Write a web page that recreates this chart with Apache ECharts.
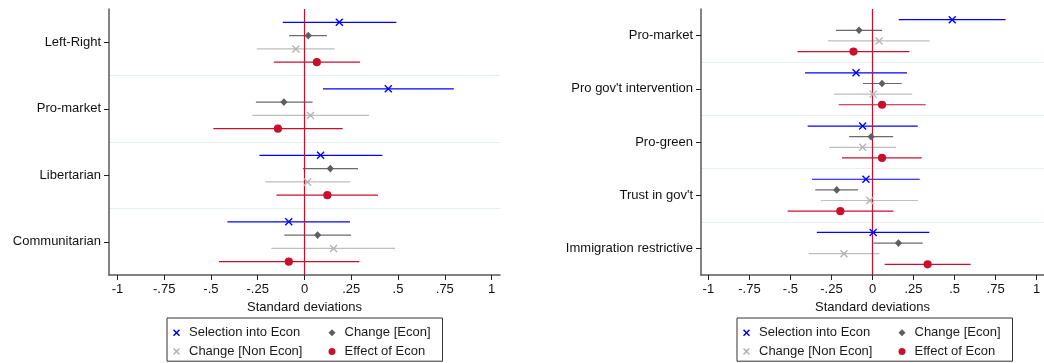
<!DOCTYPE html>
<html>
<head>
<meta charset="utf-8">
<script src="https://cdn.jsdelivr.net/npm/echarts@6/dist/echarts.min.js"></script>
<style>
  html, body { margin: 0; padding: 0; background: #ffffff; }
  #chart { width: 1044px; height: 363px; }
</style>
</head>
<body>
<div id="chart"></div>
<script>
// ---- Data -------------------------------------------------------------
const leftCategories  = ['Left-Right', 'Pro-market', 'Libertarian', 'Communitarian'];
const rightCategories = ['Pro-market', "Pro gov't intervention", 'Pro-green', "Trust in gov't", 'Immigration restrictive'];

const seriesNames = ['Selection into Econ', 'Change [Econ]', 'Change [Non Econ]', 'Effect of Econ'];

// Left panel: point estimates and 95% interval bounds (standard deviations)
const leftSelectionEst = [0.186, 0.448, 0.086, -0.084];
const leftSelectionLo  = [-0.116, 0.099, -0.241, -0.412];
const leftSelectionHi  = [0.491, 0.798, 0.416, 0.243];

const leftChangeEconEst = [0.020, -0.110, 0.138, 0.070];
const leftChangeEconLo  = [-0.082, -0.260, -0.009, -0.107];
const leftChangeEconHi  = [0.120, 0.043, 0.286, 0.249];

const leftChangeNonEst = [-0.046, 0.032, 0.016, 0.155];
const leftChangeNonLo  = [-0.255, -0.279, -0.209, -0.177];
const leftChangeNonHi  = [0.161, 0.345, 0.243, 0.484];

const leftEffectEst = [0.066, -0.142, 0.122, -0.084];
const leftEffectLo  = [-0.164, -0.487, -0.150, -0.457];
const leftEffectHi  = [0.297, 0.204, 0.393, 0.293];

// Right panel
const rightSelectionEst = [0.486, -0.100, -0.060, -0.040, 0.004];
const rightSelectionLo  = [0.160, -0.411, -0.395, -0.369, -0.339];
const rightSelectionHi  = [0.811, 0.210, 0.276, 0.288, 0.346];

const rightChangeEconEst = [-0.082, 0.058, -0.008, -0.218, 0.158];
const rightChangeEconLo  = [-0.222, -0.058, -0.142, -0.349, 0.006];
const rightChangeEconHi  = [0.058, 0.178, 0.126, -0.088, 0.306];

const rightChangeNonEst = [0.040, 0.004, -0.060, -0.016, -0.174];
const rightChangeNonLo  = [-0.272, -0.234, -0.264, -0.315, -0.389];
const rightChangeNonHi  = [0.348, 0.242, 0.144, 0.278, 0.042];

const rightEffectEst = [-0.116, 0.058, 0.058, -0.196, 0.336];
const rightEffectLo  = [-0.457, -0.206, -0.186, -0.517, 0.074];
const rightEffectHi  = [0.224, 0.324, 0.300, 0.128, 0.598];

// x-axis ticks
const tickValues = [-1, -0.75, -0.5, -0.25, 0, 0.25, 0.5, 0.75, 1];
const tickLabels = ['-1', '-.75', '-.5', '-.25', '0', '.25', '.5', '.75', '1'];

// ---- Styling ------------------------------------------------------------
const FONT = "'Liberation Sans', Arial, Helvetica, sans-serif";
const COLORS = ['#0000ff', '#5e5e5e', '#b4b4b4', '#c8102e'];
const LINE_COLORS = ['#0000ff', '#6a6a6a', '#bdbdbd', '#c8102e'];
const MARKERS = ['cross', 'diamond', 'cross', 'circle'];
const ZERO_COLOR = '#c8102e';

const crossPath = 'path://M0,1.5L1.5,0L5,3.5L8.5,0L10,1.5L6.5,5L10,8.5L8.5,10L5,6.5L1.5,10L0,8.5L3.5,5Z';
const diamondPath = 'path://M5,0L10,5L5,10L0,5Z';
const circlePath = 'path://M5,0A5,5,0,1,1,4.99,0Z';
const legendIcons = [crossPath, diamondPath, crossPath, circlePath];

// ---- Helpers ------------------------------------------------------------
function buildRows(est, lo, hi) {
  return est.map((v, i) => [v, i, lo[i], hi[i]]);
}

// vertical offset of a series' row within its category band (4 rows per band)
function rowY(api, row) {
  const band = api.size([0, 1])[1];
  return api.coord([0, api.value(1)])[1] + (row - 1.5) * band / 5;
}

function barRenderer(row) {
  return function (params, api) {
    const y = rowY(api, row);
    const x0 = api.coord([api.value(2), api.value(1)])[0];
    const x1 = api.coord([api.value(3), api.value(1)])[0];
    return {
      type: 'line',
      shape: { x1: x0, y1: y, x2: x1, y2: y },
      style: { stroke: LINE_COLORS[row], lineWidth: 1.2 }
    };
  };
}

function markerRenderer(row) {
  return function (params, api) {
    const y = rowY(api, row);
    const x = api.coord([api.value(0), api.value(1)])[0];
    const color = COLORS[row];
    const kind = MARKERS[row];
    if (kind === 'cross') {
      const h = 3.5;
      return {
        type: 'group',
        children: [
          { type: 'line', shape: { x1: x - h, y1: y - h, x2: x + h, y2: y + h }, style: { stroke: color, lineWidth: 1.4 } },
          { type: 'line', shape: { x1: x - h, y1: y + h, x2: x + h, y2: y - h }, style: { stroke: color, lineWidth: 1.4 } }
        ]
      };
    }
    if (kind === 'diamond') {
      return {
        type: 'polygon',
        shape: { points: [[x, y - 3.8], [x + 3.6, y], [x, y + 3.8], [x - 3.6, y]] },
        style: { fill: color }
      };
    }
    return { type: 'circle', shape: { cx: x, cy: y, r: 4.1 }, style: { fill: color } };
  };
}

function zeroRenderer(params, api) {
  const cs = params.coordSys;
  const x = api.coord([api.value(0), 0])[0];
  return {
    type: 'line',
    shape: { x1: x, y1: cs.y, x2: x, y2: cs.y + cs.height },
    style: { stroke: ZERO_COLOR, lineWidth: 1.2 }
  };
}

const panels = [
  {
    categories: leftCategories,
    rows: [
      buildRows(leftSelectionEst, leftSelectionLo, leftSelectionHi),
      buildRows(leftChangeEconEst, leftChangeEconLo, leftChangeEconHi),
      buildRows(leftChangeNonEst, leftChangeNonLo, leftChangeNonHi),
      buildRows(leftEffectEst, leftEffectLo, leftEffectHi)
    ],
    grid: { left: 109, top: 9, width: 391, height: 266 },
    legendLeft: 167
  },
  {
    categories: rightCategories,
    rows: [
      buildRows(rightSelectionEst, rightSelectionLo, rightSelectionHi),
      buildRows(rightChangeEconEst, rightChangeEconLo, rightChangeEconHi),
      buildRows(rightChangeNonEst, rightChangeNonLo, rightChangeNonHi),
      buildRows(rightEffectEst, rightEffectLo, rightEffectHi)
    ],
    grid: { left: 701, top: 9, width: 348, height: 266 },
    legendLeft: 737
  }
];

function tickLabel(v) {
  for (let i = 0; i < tickValues.length; i++) {
    if (Math.abs(tickValues[i] - v) < 1e-9) return tickLabels[i];
  }
  return '';
}

const grids = [], xAxes = [], yAxes = [], series = [], legends = [];

panels.forEach((p, pi) => {
  grids.push(p.grid);

  xAxes.push({
    gridIndex: pi,
    type: 'value',
    min: -1.045,
    max: 1.045,
    axisLine: { show: true, onZero: false, lineStyle: { color: '#5a5a5a', width: 1.5 } },
    axisTick: { show: true, length: 5, customValues: tickValues, lineStyle: { color: '#222222', width: 1 } },
    axisLabel: { customValues: tickValues, formatter: tickLabel, fontSize: 13, color: '#111111', margin: 8, fontFamily: FONT },
    splitLine: { show: false },
    name: 'Standard deviations',
    nameLocation: 'middle',
    nameGap: 21,
    nameTextStyle: { fontSize: 13, color: '#111111', fontFamily: FONT }
  });

  yAxes.push({
    gridIndex: pi,
    type: 'category',
    data: p.categories,
    inverse: true,
    axisLine: { show: true, onZero: false, lineStyle: { color: '#5a5a5a', width: 1.5 } },
    axisTick: { show: true, alignWithLabel: true, length: 5, lineStyle: { color: '#222222', width: 1 } },
    axisLabel: { fontSize: 13, color: '#111111', margin: 8, fontFamily: FONT },
    splitLine: { show: true, showMinLine: false, showMaxLine: false, lineStyle: { color: '#e6eef0', width: 1 } }
  });

  // error bars
  p.rows.forEach((data, r) => {
    series.push({
      type: 'custom',
      name: seriesNames[r],
      xAxisIndex: pi,
      yAxisIndex: pi,
      z: 2,
      silent: true,
      renderItem: barRenderer(r),
      encode: { x: [0, 2, 3], y: 1 },
      itemStyle: { color: COLORS[r] },
      data: data
    });
  });

  // reference line at zero
  series.push({
    type: 'custom',
    name: 'zero',
    xAxisIndex: pi,
    yAxisIndex: pi,
    z: 3,
    silent: true,
    renderItem: zeroRenderer,
    encode: { x: 0, y: 1 },
    data: [[0, 0]]
  });

  // point estimates
  p.rows.forEach((data, r) => {
    series.push({
      type: 'custom',
      name: seriesNames[r],
      xAxisIndex: pi,
      yAxisIndex: pi,
      z: 4,
      silent: true,
      renderItem: markerRenderer(r),
      encode: { x: [0, 2, 3], y: 1 },
      itemStyle: { color: COLORS[r] },
      data: data
    });
  });

  legends.push({
    left: p.legendLeft,
    top: 318,
    orient: 'horizontal',
    width: 272,
    itemWidth: 15,
    itemHeight: 7,
    itemGap: 3,
    symbolKeepAspect: true,
    padding: [7, 12, 2, 6],
    borderColor: '#333333',
    borderWidth: 1,
    selectedMode: false,
    data: seriesNames.map((n, i) => ({ name: n, icon: legendIcons[i], itemStyle: { color: COLORS[i] } })),
    formatter: function (name) {
      const idx = seriesNames.indexOf(name);
      return (idx % 2 === 0 ? '{a|' : '{b|') + name + '}';
    },
    textStyle: {
      fontFamily: FONT,
      fontSize: 13,
      color: '#1a1a1a',
      rich: {
        a: { width: 136.5, height: 15.6, fontSize: 13, lineHeight: 15.6, fontFamily: FONT, color: '#1a1a1a' },
        b: { height: 15.6, fontSize: 13, lineHeight: 15.6, fontFamily: FONT, color: '#1a1a1a' }
      }
    }
  });
});

const chart = echarts.init(document.getElementById('chart'), null, { renderer: 'canvas' });
chart.setOption({
  animation: false,
  backgroundColor: '#ffffff',
  textStyle: { fontFamily: FONT },
  grid: grids,
  xAxis: xAxes,
  yAxis: yAxes,
  legend: legends,
  series: series
});
</script>
</body>
</html>
